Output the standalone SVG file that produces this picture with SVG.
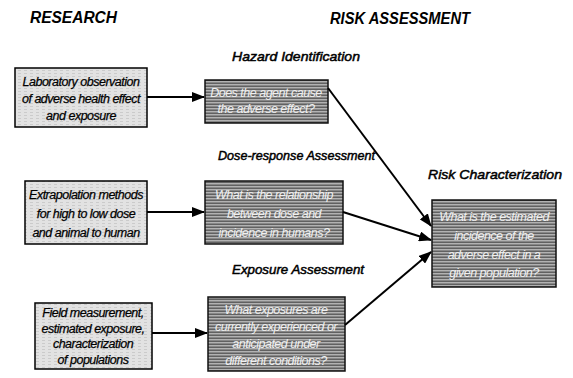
<svg xmlns="http://www.w3.org/2000/svg" width="573" height="378" viewBox="0 0 573 378">
<style>
  .head{font-family:"Liberation Sans",Arial,sans-serif;font-style:italic;font-weight:bold;font-size:16px;fill:#000}
  .lbl{font-family:"Liberation Sans",Arial,sans-serif;font-style:italic;font-size:13.5px;fill:#000;stroke:#000;stroke-width:0.5}
  .lt{font-family:"Liberation Sans",Arial,sans-serif;font-style:italic;font-size:12.5px;fill:#000;stroke:#000;stroke-width:0.25;text-anchor:middle;letter-spacing:-0.5px}
  .dt{font-family:"Liberation Sans",Arial,sans-serif;font-style:italic;font-size:12.5px;fill:#f0f0f0;text-anchor:middle;letter-spacing:-0.5px}
  .lbox{fill:url(#light);stroke:#000;stroke-width:1.5}
  .dbox{fill:url(#dark);stroke:#111;stroke-width:1.5}
  .conn{stroke:#000;stroke-width:2;fill:none}
</style>
<defs>
  <pattern id="light" width="6" height="3" patternUnits="userSpaceOnUse">
    <rect width="6" height="3" fill="#e2e2e2"/>
    <rect x="0" y="1" width="3" height="1" fill="#cbcbcb"/>
  </pattern>
  <pattern id="dark" width="8" height="3" patternUnits="userSpaceOnUse">
    <rect width="8" height="3" fill="#878787"/>
    <rect x="0" y="0" width="8" height="1" fill="#b2b2b2"/>
    <rect x="0" y="2" width="8" height="1" fill="#616161"/>
  </pattern>
  <marker id="arr" viewBox="0 0 13 10" refX="12" refY="5" markerWidth="13" markerHeight="10" markerUnits="userSpaceOnUse" orient="auto">
    <path d="M0,0 L13,5 L0,10 z" fill="#000"/>
  </marker>
</defs>
<rect width="573" height="378" fill="#fff"/>

<g id="titles">
  <text class="head" x="30" y="23" textLength="87" lengthAdjust="spacingAndGlyphs">RESEARCH</text>
  <text class="head" x="330" y="24" textLength="140" lengthAdjust="spacingAndGlyphs">RISK ASSESSMENT</text>
</g>

<g id="lab-obs">
  <rect class="lbox" x="15" y="68" width="132" height="59"/>
  <text class="lt" x="81" y="86">Laboratory observation</text>
  <text class="lt" x="81" y="103">of adverse health effect</text>
  <text class="lt" x="81" y="120">and exposure</text>
</g>

<g id="extrapolation">
  <rect class="lbox" x="25" y="181" width="122" height="63"/>
  <text class="lt" x="86" y="199">Extrapolation methods</text>
  <text class="lt" x="86" y="218">for high to low dose</text>
  <text class="lt" x="86" y="237">and animal to human</text>
</g>

<g id="field">
  <rect class="lbox" x="35" y="303" width="117" height="66"/>
  <text class="lt" x="93" y="317">Field measurement,</text>
  <text class="lt" x="93" y="333">estimated exposure,</text>
  <text class="lt" x="93" y="348">characterization</text>
  <text class="lt" x="93" y="364">of populations</text>
</g>

<g id="hazard">
  <text class="lbl" x="232" y="61" textLength="128" lengthAdjust="spacingAndGlyphs">Hazard Identification</text>
  <rect class="dbox" x="205" y="80" width="123" height="43"/>
  <text class="dt" x="266" y="97">Does the agent cause</text>
  <text class="dt" x="266" y="113">the adverse effect?</text>
</g>

<g id="dose">
  <text class="lbl" x="218" y="160" textLength="157" lengthAdjust="spacingAndGlyphs">Dose-response Assessment</text>
  <rect class="dbox" x="205" y="181" width="138" height="63"/>
  <text class="dt" x="274" y="199">What is the relationship</text>
  <text class="dt" x="274" y="218">between dose and</text>
  <text class="dt" x="274" y="237">incidence in humans?</text>
</g>

<g id="exposure">
  <text class="lbl" x="232" y="274" textLength="132" lengthAdjust="spacingAndGlyphs">Exposure Assessment</text>
  <rect class="dbox" x="208" y="297" width="137" height="74"/>
  <text class="dt" x="276" y="314">What exposures are</text>
  <text class="dt" x="276" y="331">currently experienced or</text>
  <text class="dt" x="276" y="348">anticipated under</text>
  <text class="dt" x="276" y="365">different conditions?</text>
</g>

<g id="risk">
  <text class="lbl" x="428" y="179" textLength="134" lengthAdjust="spacingAndGlyphs">Risk Characterization</text>
  <rect class="dbox" x="432" y="200" width="124" height="87"/>
  <text class="dt" x="494" y="221">What is the estimated</text>
  <text class="dt" x="494" y="240">incidence of the</text>
  <text class="dt" x="494" y="259">adverse effect in a</text>
  <text class="dt" x="494" y="277">given population?</text>
</g>

<g id="connectors">
  <line class="conn" x1="147" y1="97" x2="204" y2="97" marker-end="url(#arr)"/>
  <line class="conn" x1="147" y1="212" x2="204" y2="212" marker-end="url(#arr)"/>
  <line class="conn" x1="152" y1="333" x2="207" y2="333" marker-end="url(#arr)"/>
  <line class="conn" x1="328" y1="88" x2="431" y2="226" marker-end="url(#arr)"/>
  <line class="conn" x1="343" y1="212" x2="431" y2="240" marker-end="url(#arr)"/>
  <line class="conn" x1="345" y1="325" x2="431" y2="252" marker-end="url(#arr)"/>
</g>
</svg>
